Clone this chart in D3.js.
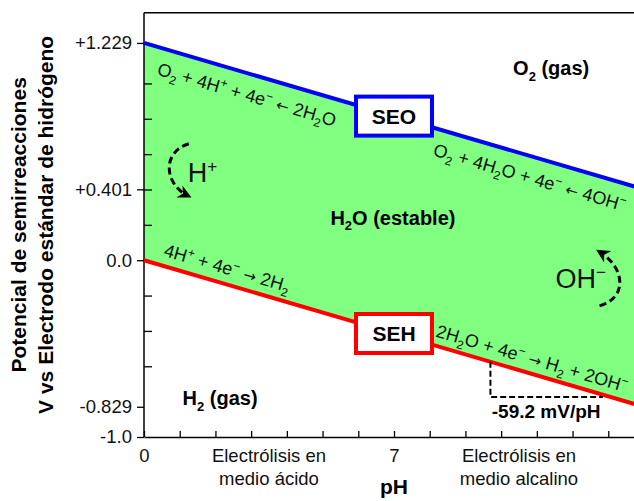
<!DOCTYPE html>
<html>
<head>
<meta charset="utf-8">
<script src="https://cdn.jsdelivr.net/npm/d3@7"></script>
<style>
  body { margin: 0; background: #fff; }
  svg { display: block; font-family: "Liberation Sans", Arial, sans-serif; }
  text { white-space: pre; }
</style>
</head>
<body>
<svg id="chart"></svg>
<script>
// values
const phEnds = [0, 14];
const oxygenLine = [1.229, 0.401];     // E at pH 0 and pH 14 (SEO)
const hydrogenLine = [0.0, -0.829];    // E at pH 0 and pH 14 (SEH)
const phTicks = [0, 1, 2, 3, 4, 5, 6, 7, 8, 9, 10, 11, 12, 13];
const phTickLabels = { 0: "0", 7: "7" };
const potentialTicks = [1.229, 0.401, 0.0, -0.829, -1.0];
const potentialTickLabels = ["+1.229", "+0.401", "0.0", "-0.829", "-1.0"];
const minorPotentialTicks = [1.0, 0.8, 0.6, 0.4, 0.2, -0.2, -0.4, -0.6];
const mediumLabels = [["Electrólisis en", "medio ácido"], ["Electrólisis en", "medio alcalino"]];
const equationTexts = [
    "O_2 + 4H^+ + 4e^− ← 2H_2O",
    "O_2 + 4H_2O + 4e^− ← 4OH^−",
    "4H^+ + 4e^− → 2H_2",
    "2H_2O + 4e^− → H_2 + 2OH^−"
];
const regionTexts = ["O_2 (gas)", "H_2O (estable)", "H_2 (gas)"];
const ionTexts = ["H^+", "OH^−"];
const boxTexts = ["SEO", "SEH"];
const slopeText = "-59.2 mV/pH";
const yTitle = ["Potencial de semirreacciones", "V vs Electrodo estándar de hidrógeno"];

const width = 634;
const height = 501;

const svg = d3.select("#chart")
    .attr("width", width)
    .attr("height", height);

const x = d3.scaleLinear().domain([0, 14]).range([144, 644]);
const y = d3.scaleLinear().domain([-1, 1.4]).range([437, 12.7]);

function potentialAt(line, ph) {
    return line[0] + (line[1] - line[0]) * (ph - phEnds[0]) / (phEnds[1] - phEnds[0]);
}

const angle = Math.atan2(
    y(potentialAt(oxygenLine, 1)) - y(potentialAt(oxygenLine, 0)),
    x(1) - x(0)) * 180 / Math.PI;

// "_x" -> subscript, "^x" -> superscript, arrows get their own span
function addRichText(sel, str, size) {
    const small = Math.round(size * 0.64);
    const parts = [];
    for (let i = 0; i < str.length; i++) {
        const c = str[i];
        if ((c === "_" || c === "^") && i + 1 < str.length) {
            parts.push({ t: str[i + 1], k: c === "_" ? "sub" : "sup" });
            i++;
        } else if (c === "←" || c === "→") {
            parts.push({ t: c, k: "arrow" });
        } else {
            const last = parts[parts.length - 1];
            if (last && last.k === "n") last.t += c;
            else parts.push({ t: c, k: "n" });
        }
    }
    let shift = 0;
    parts.forEach((p) => {
        const target = p.k === "sub" ? size * 0.28 : p.k === "sup" ? -size * 0.38 : 0;
        const span = sel.append("tspan")
            .attr("dy", target - shift)
            .attr("font-size", p.k === "sub" || p.k === "sup" ? small : size)
            .text(p.t);
        if (p.k === "arrow") span.attr("font-family", "DejaVu Sans, sans-serif").attr("font-size", size * 0.85);
        shift = target;
    });
}

// stable water region
const area = d3.area()
    .x((d, i) => x(phEnds[i]))
    .y0((d, i) => y(hydrogenLine[i]))
    .y1((d, i) => y(oxygenLine[i]));

svg.append("path")
    .datum(phEnds)
    .attr("d", area)
    .attr("fill", "#80ff80");

// frame top
svg.append("line")
    .attr("x1", x(0)).attr("x2", x(14))
    .attr("y1", y(1.4)).attr("y2", y(1.4))
    .attr("stroke", "#000").attr("stroke-width", 1.5);

// axes
const yAxis = svg.append("g")
    .attr("transform", `translate(${x(0)},0)`)
    .call(d3.axisLeft(y)
        .tickValues(potentialTicks)
        .tickSize(7)
        .tickPadding(5)
        .tickFormat((d, i) => potentialTickLabels[i]));
yAxis.select(".domain").remove();

svg.append("g")
    .attr("transform", `translate(${x(0)},0)`)
    .call(d3.axisLeft(y)
        .tickValues(minorPotentialTicks)
        .tickSize(-8)
        .tickFormat(""))
    .select(".domain").remove();

svg.append("line")
    .attr("x1", x(0)).attr("x2", x(0))
    .attr("y1", y(1.4)).attr("y2", y(-1))
    .attr("stroke", "#000").attr("stroke-width", 1.5);

const xAxis = svg.append("g")
    .attr("transform", `translate(0,${y(-1)})`)
    .call(d3.axisBottom(x)
        .tickValues(phTicks)
        .tickSize(-6)
        .tickSizeOuter(0)
        .tickPadding(12)
        .tickFormat((d) => phTickLabels[d] || ""));

svg.selectAll(".tick line").attr("stroke", "#000").attr("stroke-width", 1.3);
xAxis.select(".domain").attr("stroke-width", 1.5);
svg.selectAll(".tick text")
    .attr("font-size", 18.5)
    .attr("font-family", "Liberation Sans, Arial, sans-serif")
    .attr("fill", "#111");

// medium labels under the axis
mediumLabels.forEach((lines, i) => {
    const t = svg.append("text")
        .attr("x", x([3.5, 10.5][i]))
        .attr("y", 462)
        .attr("text-anchor", "middle")
        .attr("font-size", 18.5)
        .attr("fill", "#111");
    lines.forEach((l, j) => {
        t.append("tspan")
            .attr("x", x([3.5, 10.5][i]))
            .attr("dy", j === 0 ? 0 : 23)
            .text(l);
    });
});

svg.append("text")
    .attr("x", x(7))
    .attr("y", 494)
    .attr("text-anchor", "middle")
    .attr("font-size", 21)
    .attr("font-weight", "bold")
    .text("pH");

// y title
yTitle.forEach((l, i) => {
    svg.append("text")
        .attr("transform", `translate(${[26, 53][i]},${(y(1.4) + y(-1)) / 2}) rotate(-90)`)
        .attr("text-anchor", "middle")
        .attr("font-size", 21)
        .attr("font-weight", "bold")
        .text(l);
});

// boundary lines
[[oxygenLine, "#0000ff"], [hydrogenLine, "#ff0000"]].forEach(([line, color]) => {
    svg.append("line")
        .attr("x1", x(phEnds[0])).attr("y1", y(line[0]))
        .attr("x2", x(phEnds[1])).attr("y2", y(line[1]))
        .attr("stroke", color)
        .attr("stroke-width", 4);
});

// equations along the lines
const equationPlaces = [
    { line: oxygenLine, ph: 0.34, dy: 28 },
    { line: oxygenLine, ph: 8.07, dy: 28 },
    { line: hydrogenLine, ph: 0.53, dy: -10 },
    { line: hydrogenLine, ph: 8.15, dy: -9 }
];
equationTexts.forEach((str, i) => {
    const p = equationPlaces[i];
    const t = svg.append("text")
        .attr("transform", `translate(${x(p.ph)},${y(potentialAt(p.line, p.ph)) + p.dy}) rotate(${angle})`)
        .attr("fill", "#111");
    addRichText(t, str, 18);
});

// SEO / SEH boxes
[[oxygenLine, "#0000ff"], [hydrogenLine, "#ff0000"]].forEach(([line, color], i) => {
    const cx = x(7);
    const cy = y(potentialAt(line, 7));
    svg.append("rect")
        .attr("x", cx - 38).attr("y", cy - 19.5)
        .attr("width", 76).attr("height", 39)
        .attr("fill", "#fff")
        .attr("stroke", color)
        .attr("stroke-width", 4);
    svg.append("text")
        .attr("x", cx).attr("y", cy + 7.5)
        .attr("text-anchor", "middle")
        .attr("font-size", 21)
        .attr("font-weight", "bold")
        .text(boxTexts[i]);
});

// region labels
const regionPlaces = [[11.4, 1.047], [6.97, 0.2], [2.13, -0.82]];
regionTexts.forEach((str, i) => {
    const t = svg.append("text")
        .attr("x", x(regionPlaces[i][0]))
        .attr("y", y(regionPlaces[i][1]))
        .attr("text-anchor", "middle")
        .attr("font-weight", "bold");
    addRichText(t, str, 20);
});

// ion arrows
svg.append("defs").append("marker")
    .attr("id", "head")
    .attr("viewBox", "0 0 10 10")
    .attr("refX", 7).attr("refY", 5)
    .attr("markerWidth", 4.5).attr("markerHeight", 4.5)
    .attr("markerUnits", "strokeWidth")
    .attr("orient", "auto")
    .append("path")
    .attr("d", "M0,0 L10,5 L0,10 L3,5 Z")
    .attr("fill", "#000");

const ionPlaces = [
    { ph: 1.34, e: 0.5, path: "M -3 -28 C -30 -20, -28 12, -4 24", label: [-4, 10] },
    { ph: 12.7, e: -0.1, path: "M 2 28 C 30 20, 28 -10, 2 -26", label: [-42, 10] }
];
ionTexts.forEach((str, i) => {
    const p = ionPlaces[i];
    const g = svg.append("g")
        .attr("transform", `translate(${x(p.ph)},${y(p.e)})`);
    g.append("path")
        .attr("d", p.path)
        .attr("fill", "none")
        .attr("stroke", "#000")
        .attr("stroke-width", 3)
        .attr("stroke-dasharray", "7,4")
        .attr("marker-end", "url(#head)");
    const t = g.append("text")
        .attr("x", p.label[0]).attr("y", p.label[1])
        .attr("fill", "#111");
    addRichText(t, str, 27);
});

// slope triangle
const slopeFrom = 9.7;
const slopeTo = 12.85;
const slopeBottom = potentialAt(hydrogenLine, 13.07);
svg.append("path")
    .attr("d", `M${x(slopeFrom)},${y(potentialAt(hydrogenLine, slopeFrom))} V${y(slopeBottom)} H${x(slopeTo)}`)
    .attr("fill", "none")
    .attr("stroke", "#000")
    .attr("stroke-width", 2)
    .attr("stroke-dasharray", "6,3");

svg.append("text")
    .attr("x", x(11.26))
    .attr("y", y(slopeBottom) + 21)
    .attr("text-anchor", "middle")
    .attr("font-size", 19)
    .attr("font-weight", "bold")
    .text(slopeText);
</script>
</body>
</html>
